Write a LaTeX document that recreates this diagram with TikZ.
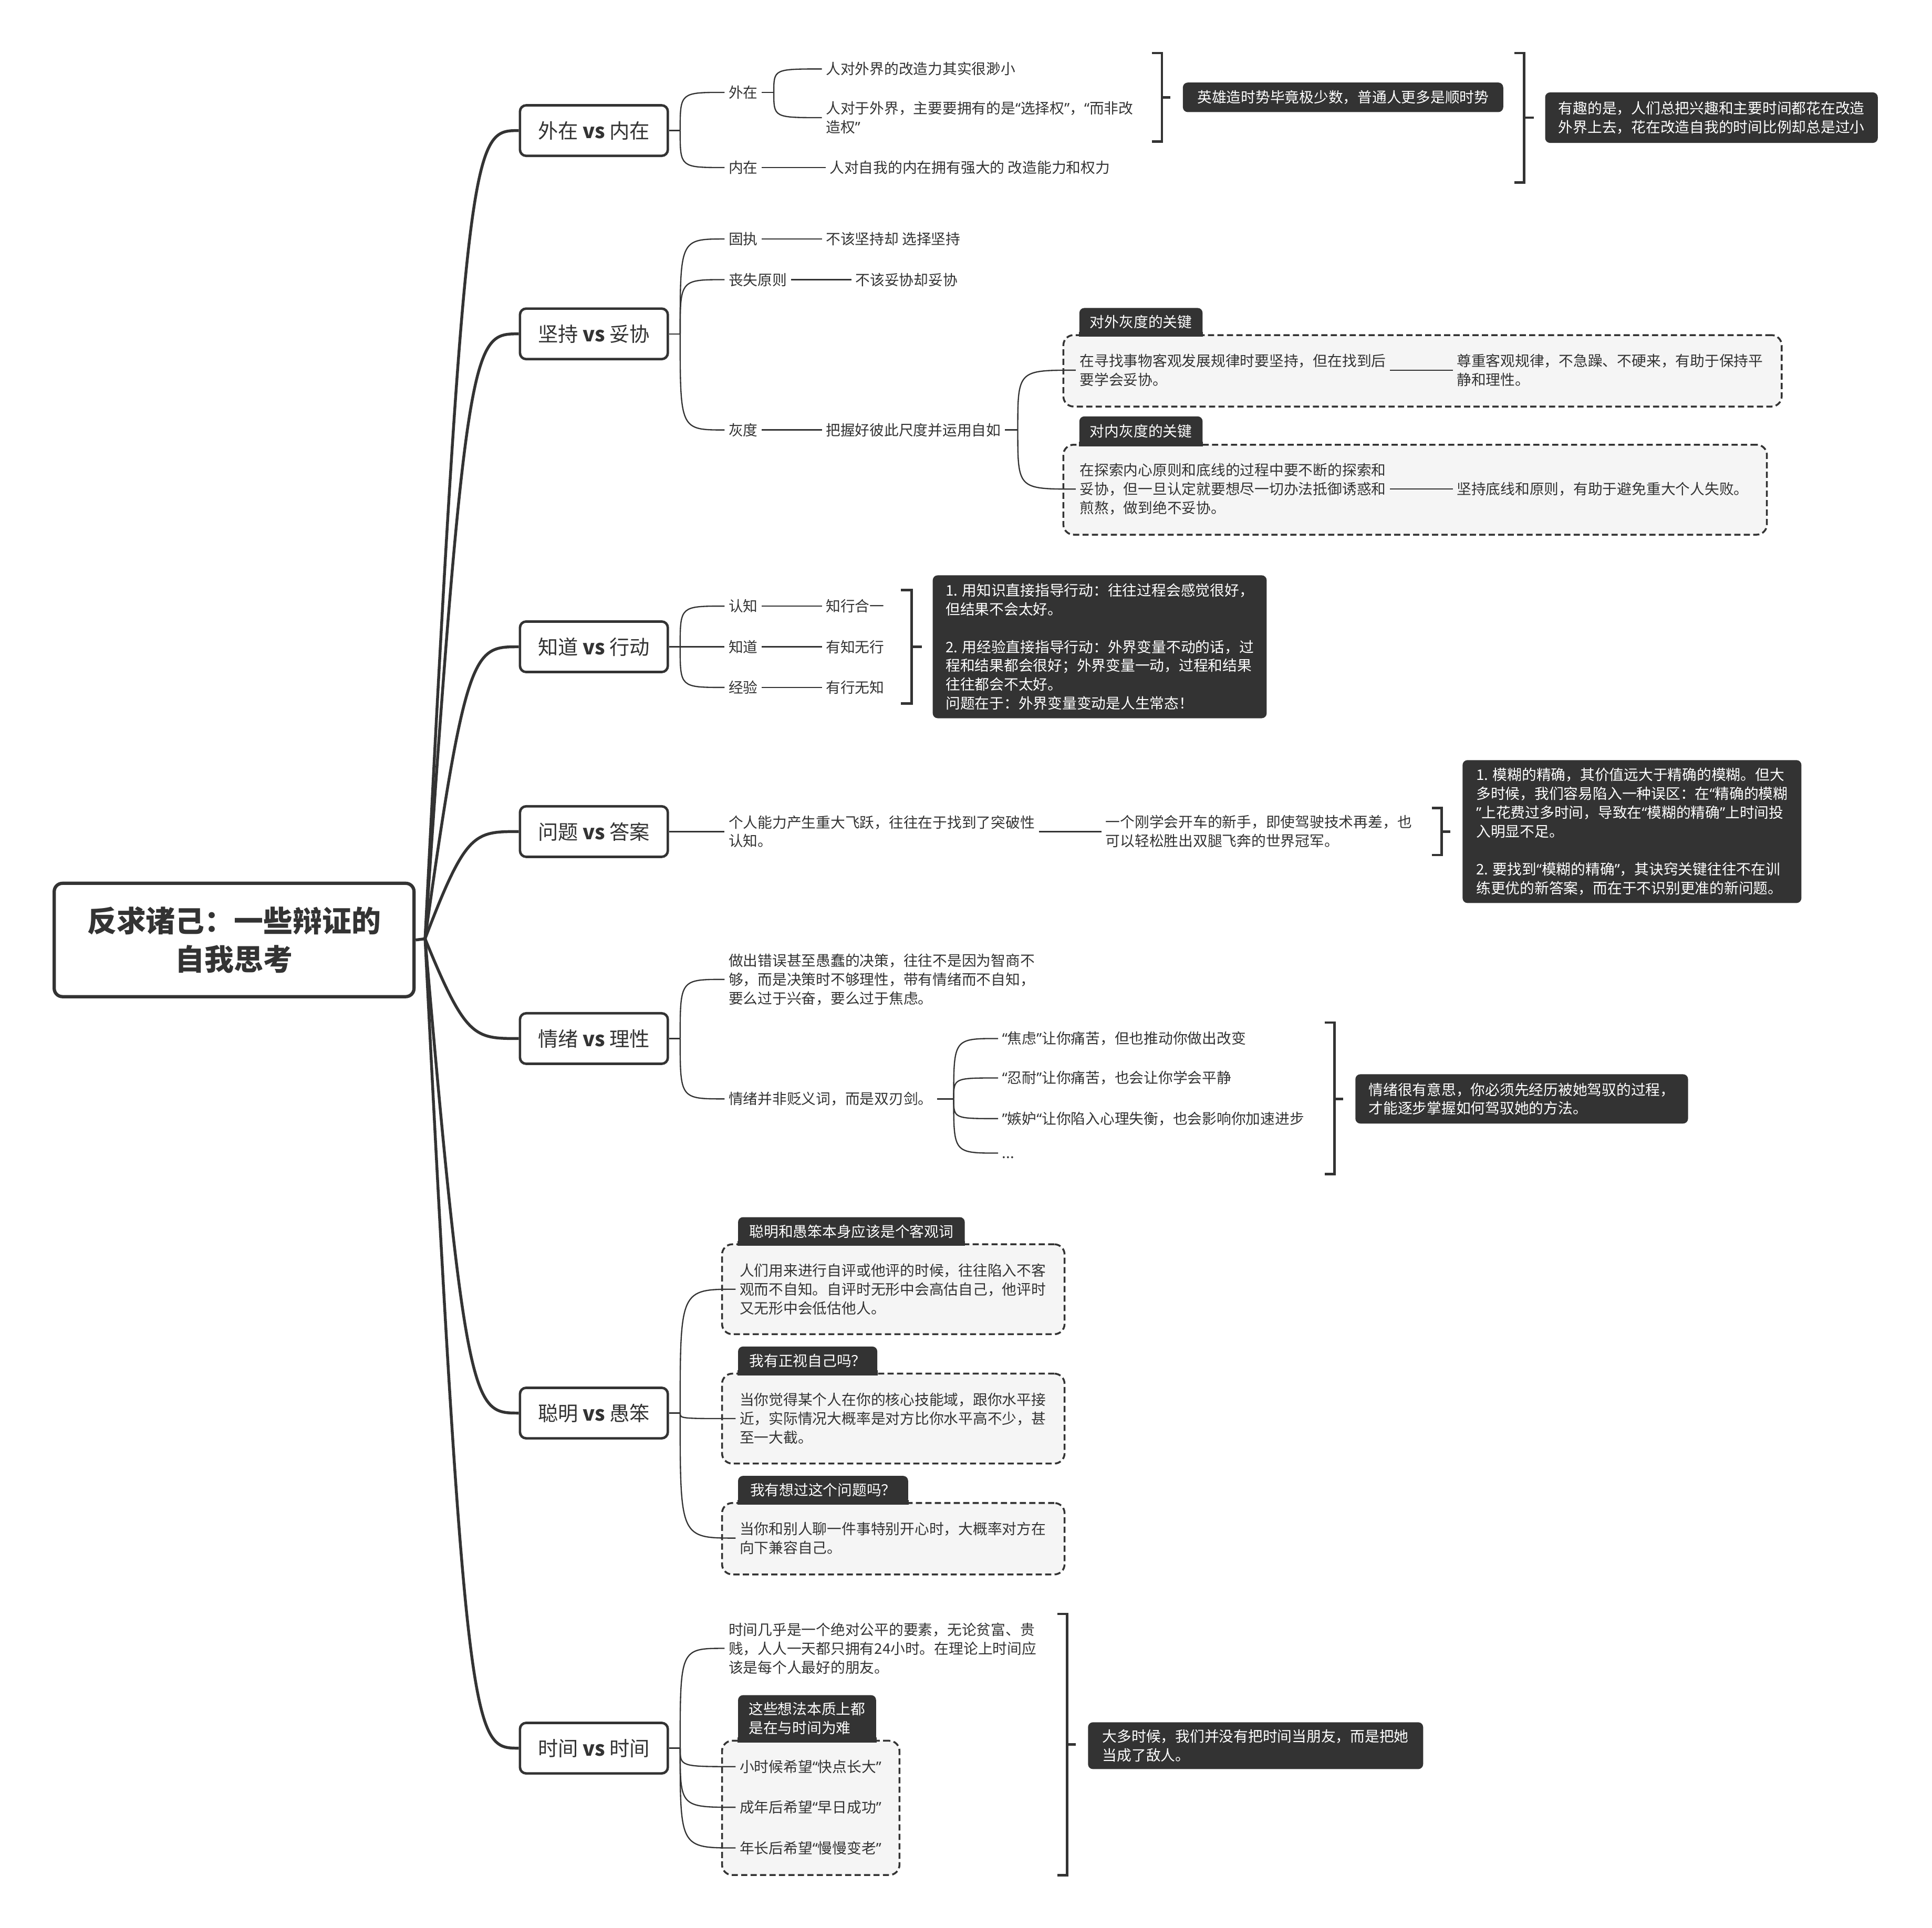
\documentclass[tikz,border=0pt]{standalone}
\usepackage{fontspec}
\setmainfont{Noto Sans CJK SC}
\newfontfamily\quotefont{Noto Sans}
\usetikzlibrary{calc}
\definecolor{dk}{HTML}{333333}
\definecolor{lt}{HTML}{F5F5F5}
\newcommand{\smfont}{\fontsize{7.1pt}{9.2pt}\selectfont}
\newcommand{\topicfont}{\fontsize{9.8pt}{12pt}\selectfont}
\newcommand{\rootfont}{\fontsize{14.3pt}{18.6pt}\selectfont\bfseries}
% narrow curly quotes
\newcommand{\lqm}{{\quotefont “}}
\newcommand{\rqm}{{\quotefont ”}}
% thin curved connector: leaves vertically, arrives horizontally
\newcommand{\twigto}[2]{\draw[twig] (#1) .. controls (#1 |- #2) .. (#2);}
\begin{document}
\begin{tikzpicture}[x=0.6pt,y=-0.6pt,
  rootbox/.style={draw=dk, line width=1.6pt, fill=white, rounded corners=4pt,
    minimum width=175.2pt, minimum height=55.2pt, align=center, font=\rootfont, text=dk, inner sep=0pt},
  topic/.style={draw=dk, line width=1.2pt, fill=white, rounded corners=3pt,
    minimum width=72pt, minimum height=24.6pt, font=\topicfont, text=dk, inner sep=0pt},
  txt/.style={anchor=west, inner xsep=1.8pt, inner ysep=0pt, align=left, font=\smfont, text=dk},
  dark/.style={fill=dk, text=white, rounded corners=2.4pt, align=left, font=\smfont, inner sep=0pt},
  tab/.style={fill=dk, text=white, rounded corners=2.4pt, align=left, font=\smfont, inner sep=0pt},
  dbox/.style={draw=dk, fill=lt, dash pattern=on 3pt off 1.6pt, line width=0.9pt,
    rounded corners=5pt, inner sep=0pt},
  trunk/.style={draw=dk, line width=1.4pt},
  twig/.style={draw=dk, line width=0.6pt},
  bracket/.style={draw=dk, line width=1.2pt}
]
\fill[white] (0,0) rectangle (1568,1565);
\useasboundingbox (0,0) rectangle (1568,1565);

% ---------- containers: dashed boxes with their tabs ----------
\node[dbox, minimum width=349.8pt, minimum height=34.8pt] (gbox1) at (1154.5,301) {};
\node[dbox, minimum width=342.6pt, minimum height=43.8pt] (gbox2) at (1148.5,397.5) {};
\node[dbox, minimum width=166.8pt, minimum height=43.8pt] (sbox1) at (725,1046.5) {};
\node[dbox, minimum width=166.8pt, minimum height=43.8pt] (sbox2) at (725,1151.5) {};
\node[dbox, minimum width=166.8pt, minimum height=34.8pt] (sbox3) at (725,1249) {};
\node[dbox, minimum width=86.4pt, minimum height=65.4pt] (tbox) at (658,1467.5) {};

\node[tab, minimum width=60pt, minimum height=13.8pt] (gtab1) at (926,261.5) {对外灰度的关键};
\node[tab, minimum width=60pt, minimum height=14.4pt] (gtab2) at (926,350) {对内灰度的关键};
\node[tab, minimum width=110.4pt, minimum height=13.8pt] (stab1) at (691,999.5) {聪明和愚笨本身应该是个客观词};
\node[tab, minimum width=67.8pt, minimum height=13.8pt] (stab2) at (655.5,1104.5) {我有正视自己吗？};
\node[tab, minimum width=82.8pt, minimum height=13.8pt] (stab3) at (668,1209.5) {我有想过这个问题吗？};
\node[tab, minimum width=67.2pt, minimum height=22.8pt] (ttab) at (655,1395) {这些想法本质上都\\是在与时间为难};
% square off the bottom of each tab
\foreach \t in {gtab1,gtab2,stab1,stab2,stab3,ttab}
  \fill[dk] ([yshift=2.4pt]\t.south west) rectangle (\t.south east);

% ---------- root and main topics ----------
\node[rootbox] (root) at (190,763) {反求诸己：一些辩证的\\自我思考};
\node[topic] (t1) at (482,106) {外在 \textbf{vs} 内在};
\node[topic] (t2) at (482,271) {坚持 \textbf{vs} 妥协};
\node[topic] (t3) at (482,525) {知道 \textbf{vs} 行动};
\node[topic] (t4) at (482,675) {问题 \textbf{vs} 答案};
\node[topic] (t5) at (482,843) {情绪 \textbf{vs} 理性};
\node[topic] (t6) at (482,1147) {聪明 \textbf{vs} 愚笨};
\node[topic] (t7) at (482,1419) {时间 \textbf{vs} 时间};

\coordinate (J) at (345,762);
\draw[trunk] (root.east) -- (J);
\foreach \t in {t1,t2,t3,t4,t5,t6,t7}
  \draw[trunk] (J) .. controls ($(J |- \t.west)+(33,0)$) and ($(J |- \t.west)+(40,0)$) .. (\t.west);

% ---------- branch 1: 外在 vs 内在 ----------
\node[txt] (wz) at (588,75) {外在};
\node[txt] (nz) at (588,136) {内在};
\node[txt] (wz1) at (667,56) {人对外界的改造力其实很渺小};
\node[txt] (wz2) at (667,95.5) {人对于外界，主要要拥有的是\lqm 选择权\rqm ，\lqm 而非改\\造权\rqm};
\node[txt] (nz1) at (670,136) {人对自我的内在拥有强大的 改造能力和权力};
\coordinate (f1) at (552,106);
\draw[twig] (t1.east) -- (f1);
\twigto{f1}{wz.west}
\twigto{f1}{nz.west}
\coordinate (f1w) at (628,75);
\draw[twig] (wz.east) -- (f1w);
\twigto{f1w}{wz1.west}
\twigto{f1w}{wz2.west}
\draw[twig] (nz.east) -- (nz1.west);

\draw[bracket] (935,43) -- (943,43) -- (943,115) -- (935,115);
\coordinate (b1tip) at (950,79);
\draw[bracket] (943,79) -- (b1tip);
\node[dark, minimum width=156pt, minimum height=14.4pt] (hero) at (1090,79) {英雄造时势毕竟极少数，普通人更多是顺时势};
\draw[bracket] (1229,43) -- (1237,43) -- (1237,148) -- (1229,148);
\coordinate (b2tip) at (1245,95.5);
\draw[bracket] (1237,95.5) -- (b2tip);
\node[dark, minimum width=162pt, minimum height=24.6pt] (fun) at (1389,95.5) {有趣的是，人们总把兴趣和主要时间都花在改造\\外界上去，花在改造自我的时间比例却总是过小};

% ---------- branch 2: 坚持 vs 妥协 ----------
\node[txt] (gz) at (588,194) {固执};
\node[txt] (gz1) at (667,194) {不该坚持却 选择坚持};
\node[txt] (ss) at (588,227) {丧失原则};
\node[txt] (ss1) at (691,227) {不该妥协却妥协};
\node[txt] (hd) at (588,349) {灰度};
\node[txt] (hd1) at (667,349) {把握好彼此尺度并运用自如};
\node[txt] (ga) at (873,300.5) {在寻找事物客观发展规律时要坚持，但在找到后\\要学会妥协。};
\node[txt] (gb) at (1179,300.5) {尊重客观规律，不急躁、不硬来，有助于保持平\\静和理性。};
\node[txt] (gc) at (873,397) {在探索内心原则和底线的过程中要不断的探索和\\妥协，但一旦认定就要想尽一切办法抵御诱惑和\\煎熬，做到绝不妥协。};
\node[txt] (gd) at (1179,397) {坚持底线和原则，有助于避免重大个人失败。};
\coordinate (f2) at (552,271);
\draw[twig] (t2.east) -- (f2);
\twigto{f2}{gz.west}
\twigto{f2}{ss.west}
\twigto{f2}{hd.west}
\draw[twig] (gz.east) -- (gz1.west);
\draw[twig] (ss.east) -- (ss1.west);
\draw[twig] (hd.east) -- (hd1.west);
\coordinate (f2h) at (826,349);
\draw[twig] (hd1.east) -- (f2h);
\twigto{f2h}{ga.west}
\twigto{f2h}{gc.west}
\draw[twig] (ga.east) -- (gb.west);
\draw[twig] (gc.east) -- (gd.west);

% ---------- branch 3: 知道 vs 行动 ----------
\node[txt] (rz) at (588,492) {认知};
\node[txt] (zd) at (588,525) {知道};
\node[txt] (jy) at (588,558) {经验};
\node[txt] (rz1) at (667,492) {知行合一};
\node[txt] (zd1) at (667,525) {有知无行};
\node[txt] (jy1) at (667,558) {有行无知};
\coordinate (f3) at (552,525);
\draw[twig] (t3.east) -- (f3);
\twigto{f3}{rz.west}
\twigto{f3}{zd.west}
\twigto{f3}{jy.west}
\draw[twig] (rz.east) -- (rz1.west);
\draw[twig] (zd.east) -- (zd1.west);
\draw[twig] (jy.east) -- (jy1.west);
\draw[bracket] (731,479) -- (740,479) -- (740,571) -- (731,571);
\coordinate (b3tip) at (748,525);
\draw[bracket] (740,525) -- (b3tip);
\node[dark, minimum width=162.6pt, minimum height=69.6pt] (zbox) at (892.5,525) {1. 用知识直接指导行动：往往过程会感觉很好，\\但结果不会太好。\\[9.2pt]2. 用经验直接指导行动：外界变量不动的话，过\\程和结果都会很好；外界变量一动，过程和结果\\往往都会不太好。\\问题在于：外界变量变动是人生常态！};

% ---------- branch 4: 问题 vs 答案 ----------
\node[txt] (wt1) at (588,675) {个人能力产生重大飞跃，往往在于找到了突破性\\认知。};
\node[txt] (wt2) at (894,675) {一个刚学会开车的新手，即使驾驶技术再差，也\\可以轻松胜出双腿飞奔的世界冠军。};
\draw[twig] (t4.east) -- (wt1.west);
\draw[twig] (wt1.east) -- (wt2.west);
\draw[bracket] (1162,656) -- (1170,656) -- (1170,694) -- (1162,694);
\coordinate (b4tip) at (1177,675);
\draw[bracket] (1170,675) -- (b4tip);
\node[dark, minimum width=165pt, minimum height=69.6pt] (wbox) at (1324.5,675) {1. 模糊的精确，其价值远大于精确的模糊。但大\\多时候，我们容易陷入一种误区：在\lqm 精确的模糊\\\rqm 上花费过多时间，导致在\lqm 模糊的精确\rqm 上时间投\\入明显不足。\\[9.2pt]2. 要找到\lqm 模糊的精确\rqm ，其诀窍关键往往不在训\\练更优的新答案，而在于不识别更准的新问题。};

% ---------- branch 5: 情绪 vs 理性 ----------
\node[txt] (qx1) at (588,795) {做出错误甚至愚蠢的决策，往往不是因为智商不\\够，而是决策时不够理性，带有情绪而不自知，\\要么过于兴奋，要么过于焦虑。};
\node[txt] (qx2) at (588,892) {情绪并非贬义词，而是双刃剑。};
\node[txt] (qa) at (810,843) {\lqm 焦虑\rqm 让你痛苦，但也推动你做出改变};
\node[txt] (qb) at (810,875) {\lqm 忍耐\rqm 让你痛苦，也会让你学会平静};
\node[txt] (qc) at (810,908) {\rqm 嫉妒\lqm 让你陷入心理失衡，也会影响你加速进步};
\node[txt] (qd) at (810,936) {\vphantom{汉}...};
\coordinate (f5) at (552,843);
\draw[twig] (t5.east) -- (f5);
\twigto{f5}{qx1.west}
\twigto{f5}{qx2.west}
\coordinate (f5q) at (774,892);
\draw[twig] (qx2.east) -- (f5q);
\twigto{f5q}{qa.west}
\twigto{f5q}{qb.west}
\twigto{f5q}{qc.west}
\twigto{f5q}{qd.west}
\draw[bracket] (1075,830) -- (1083,830) -- (1083,953) -- (1075,953);
\coordinate (b5tip) at (1090,892);
\draw[bracket] (1083,892) -- (b5tip);
\node[dark, minimum width=162pt, minimum height=24pt] (qbox) at (1235,892) {情绪很有意思，你必须先经历被她驾驭的过程，\\才能逐步掌握如何驾驭她的方法。};

% ---------- branch 6: 聪明 vs 愚笨 ----------
\node[txt] (ca) at (597,1046.5) {人们用来进行自评或他评的时候，往往陷入不客\\观而不自知。自评时无形中会高估自己，他评时\\又无形中会低估他人。};
\node[txt] (cb) at (597,1151.5) {当你觉得某个人在你的核心技能域，跟你水平接\\近，实际情况大概率是对方比你水平高不少，甚\\至一大截。};
\node[txt] (cc) at (597,1248.5) {当你和别人聊一件事特别开心时，大概率对方在\\向下兼容自己。};
\coordinate (f6) at (552,1147);
\draw[twig] (t6.east) -- (f6);
\twigto{f6}{ca.west}
\twigto{f6}{cb.west}
\twigto{f6}{cc.west}

% ---------- branch 7: 时间 vs 时间 ----------
\node[txt] (sj1) at (588,1338) {时间几乎是一个绝对公平的要素，无论贫富、贵\\贱，人人一天都只拥有24小时。在理论上时间应\\该是每个人最好的朋友。};
\node[txt] (si1) at (597,1434) {小时候希望\lqm 快点长大\rqm};
\node[txt] (si2) at (597,1467) {成年后希望\lqm 早日成功\rqm};
\node[txt] (si3) at (597,1500) {年长后希望\lqm 慢慢变老\rqm};
\coordinate (f7) at (552,1419);
\draw[twig] (t7.east) -- (f7);
\twigto{f7}{sj1.west}
\twigto{f7}{si1.west}
\twigto{f7}{si2.west}
\twigto{f7}{si3.west}
\draw[bracket] (858,1310) -- (866,1310) -- (866,1522) -- (858,1522);
\coordinate (b6tip) at (873,1416);
\draw[bracket] (866,1416) -- (b6tip);
\node[dark, minimum width=163.2pt, minimum height=22.8pt] (sbox) at (1019,1417) {大多时候，我们并没有把时间当朋友，而是把她\\当成了敌人。};
\end{tikzpicture}
\end{document}
